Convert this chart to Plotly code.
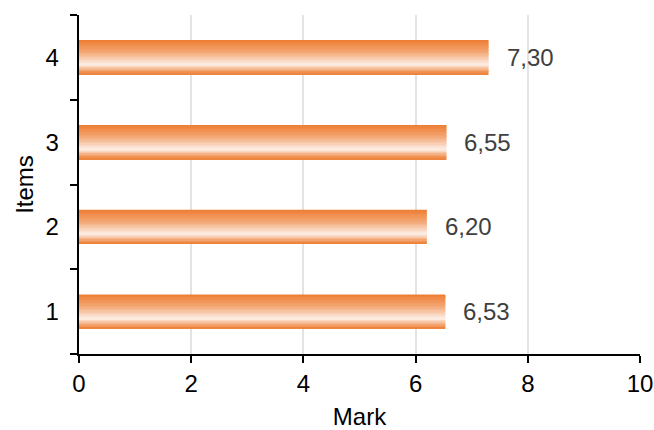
import plotly.graph_objects as go

# Chart data
items = ["1", "2", "3", "4"]
marks = [6.53, 6.20, 6.55, 7.30]
x_ticks = [0, 2, 4, 6, 8, 10]

BAR_WIDTH = 0.4          # fraction of each category band
N_STRIPS = 24            # horizontal strips used to build the vertical gradient

# Colour stops of the gradient from the top edge (0) to the bottom edge (1)
stops = [
    (0.00, (237, 125, 49)),
    (0.35, (243, 166, 116)),
    (0.72, (253, 240, 232)),
    (0.86, (245, 178, 134)),
    (1.00, (237, 125, 49)),
]


def grad_color(t):
    for (t0, c0), (t1, c1) in zip(stops[:-1], stops[1:]):
        if t0 <= t <= t1:
            f = (t - t0) / (t1 - t0) if t1 > t0 else 0
            r, g, b = (round(a + (b_ - a) * f) for a, b_ in zip(c0, c1))
            return f"rgb({r},{g},{b})"
    return "rgb(237,125,49)"


fig = go.Figure()

strip_h = BAR_WIDTH / N_STRIPS
for i in range(N_STRIPS):
    t = (i + 0.5) / N_STRIPS
    # strip i counted from the top edge of the bar; offsets are measured upward
    offset = BAR_WIDTH / 2 - (i + 1) * strip_h
    fig.add_trace(go.Bar(
        x=marks, y=items, orientation="h",
        width=strip_h * 1.04, offset=offset,
        marker=dict(color=grad_color(t), line=dict(width=0)),
        hoverinfo="skip", showlegend=False,
    ))

# Value labels with decimal commas (category position given by index)
for idx, v in enumerate(marks):
    fig.add_annotation(
        x=v, y=idx, text=f"{v:.2f}".replace(".", ","),
        xanchor="left", yanchor="middle", xshift=16, showarrow=False,
        font=dict(family="Liberation Sans, Arial", size=24, color="#404040"),
    )

fig.update_layout(
    width=654, height=430,
    margin=dict(l=79, r=14, t=15, b=76),
    paper_bgcolor="white", plot_bgcolor="white",
    barmode="overlay",
    font=dict(family="Liberation Sans, Arial", size=24, color="black"),
    xaxis=dict(
        range=[0, 10], tickvals=x_ticks, ticktext=[str(t) for t in x_ticks],
        showgrid=True, gridcolor="#E3E3E3", gridwidth=2,
        showline=True, linecolor="black", linewidth=2,
        ticks="outside", ticklen=7, tickwidth=2, tickcolor="black",
        zeroline=False, automargin=False,
        title=dict(text="Mark", standoff=12, font=dict(size=24)),
    ),
    yaxis=dict(
        type="category", categoryorder="array", categoryarray=items,
        range=[-0.5, 3.5],
        showgrid=False, automargin=False,
        showline=True, linecolor="black", linewidth=2,
        ticks="outside", tickson="boundaries", ticklen=7, tickwidth=2, tickcolor="black",
        title=dict(text="Items", standoff=5, font=dict(size=24)),
        ticksuffix="  ",
    ),
)

fig.write_html("out.html")
